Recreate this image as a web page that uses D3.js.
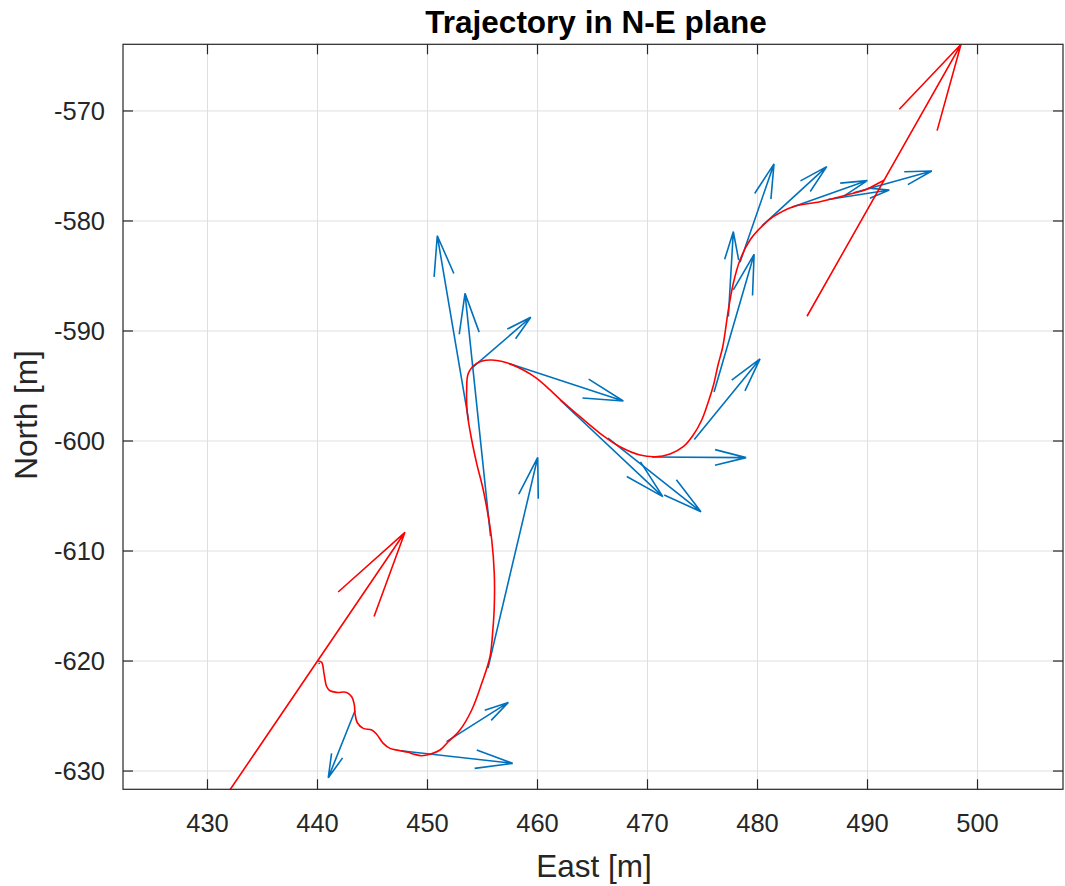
<!DOCTYPE html>
<html>
<head>
<meta charset="utf-8">
<script src="https://cdn.jsdelivr.net/npm/d3@7"></script>
<style>
  body { margin: 0; background: #fff; }
  text { font-family: "Liberation Sans", Arial, Helvetica, sans-serif; fill: #262626; }
</style>
</head>
<body>
<svg id="chart" width="1065" height="886"></svg>
<script>
// ---- axis setup ----
const xTicks = [430, 440, 450, 460, 470, 480, 490, 500];
const yTicks = [-630, -620, -610, -600, -590, -580, -570];
const xLimits = [422.32, 507.77];
const yLimits = [-631.66, -563.94];

// ---- estimated trajectory (East, North) [m] ----
const trajE = [440.02, 440.38, 440.59, 440.84, 441.14, 441.75, 442.65, 443.11, 443.35, 443.41,
  443.62, 444.16, 444.93, 445.38, 445.98, 446.59, 447.50, 448.25, 448.71, 449.47,
  450.23, 451.14, 451.89, 452.95, 454.02, 454.93, 455.68, 455.94, 456.07, 456.07,
  455.84, 455.53, 455.07, 454.47, 454.02, 453.62, 453.56, 453.71, 454.47, 455.68,
  457.20, 458.71, 459.93, 461.14, 462.05, 463.86, 465.68, 467.50, 469.32, 470.68,
  472.05, 473.25, 474.16, 474.93, 475.53, 476.00, 476.41, 476.84, 477.35, 477.80, 478.41,
  479.32, 480.53, 481.44, 483.25, 485.68, 488.11, 489.93, 490.98, 491.50];
const trajN = [-620.00, -620.12, -621.12, -622.34, -622.70, -622.85, -622.85, -623.25, -624.00, -624.75,
  -625.61, -626.12, -626.27, -626.66, -627.48, -627.94, -628.15, -628.30, -628.45, -628.61,
  -628.48, -628.09, -627.34, -626.27, -624.45, -622.03, -619.61, -617.18, -615.06, -612.03,
  -609.00, -606.88, -604.45, -602.03, -599.91, -597.48, -595.36, -593.85, -592.94, -592.64,
  -592.88, -593.55, -594.30, -595.36, -596.21, -597.79, -599.30, -600.52, -601.27, -601.43,
  -601.18, -600.52, -599.45, -598.09, -596.43, -594.91, -593.09, -591.43, -588.09, -585.66, -583.55,
  -581.73, -580.36, -579.61, -578.70, -578.25, -577.64, -577.12, -576.57, -576.30];

// ---- heading vectors along the path (origin E, N and components U, V) ----
const vecE = [440.14, 443.41, 447.56, 451.73, 455.50, 453.73, 455.73, 454.05, 457.41, 462.05,
  466.41, 470.41, 474.25, 477.35, 476.05, 478.41, 480.41, 483.12, 486.41, 488.75];
const vecN = [-620.14, -624.52, -628.15, -627.32, -620.64, -598.09, -608.64, -593.36, -592.95, -596.27,
  -599.73, -601.45, -599.86, -588.68, -595.55, -583.75, -580.45, -578.75, -578.05, -577.44];
const vecU = [0.02, -2.43, 10.18, 5.62, 4.52, -2.84, -2.32, 5.34, 10.39, 9.34,
  8.45, 8.55, 5.98, 0.45, 3.64, 3.09, 5.88, 6.86, 5.57, 7.09];
const vecV = [-0.12, -6.09, -1.15, 3.56, 19.15, 16.75, 22.06, 4.61, -3.41, -8.79,
  -6.70, -0.06, 7.32, 7.71, 12.52, 8.94, 5.39, 2.42, 0.86, 1.98];

// ---- start / end direction arrows ----
const endE = [432.05, 484.50];
const endN = [-631.70, -588.66];
const endU = [15.90, 14.00];
const endV = [23.40, 24.72];

// ---- layout ----
const svg = d3.select("#chart");
const plot = { left: 123, right: 1063, top: 44.3, bottom: 789.3 };
const x = d3.scaleLinear().domain(xLimits).range([plot.left, plot.right]);
const y = d3.scaleLinear().domain(yLimits).range([plot.bottom, plot.top]);

const axisColor = "#262626";
const gridColor = "#dfdfdf";
const blue = "#0072BD";
const red = "#FF0000";

svg.append("defs").append("clipPath").attr("id", "plotClip")
  .append("rect")
  .attr("x", plot.left).attr("y", plot.top)
  .attr("width", plot.right - plot.left).attr("height", plot.bottom - plot.top);

// grid
const grid = svg.append("g");
grid.selectAll("line.gx").data(xTicks).join("line")
  .attr("x1", d => x(d)).attr("x2", d => x(d))
  .attr("y1", plot.top).attr("y2", plot.bottom)
  .attr("stroke", gridColor).attr("stroke-width", 1);
grid.selectAll("line.gy").data(yTicks).join("line")
  .attr("class", "gy")
  .attr("x1", plot.left).attr("x2", plot.right)
  .attr("y1", d => y(d)).attr("y2", d => y(d))
  .attr("stroke", gridColor).attr("stroke-width", 1);

// quiver-style arrows: shaft plus two-line head
function arrowPath(e, n, u, v, alpha, beta, cap) {
  const L = Math.hypot(u, v);
  const tipE = e + u, tipN = n + v;
  let f = alpha;
  if (L > 0 && alpha * L > cap) f = cap / L;
  const hu = f * u, hv = f * v;
  const p1 = [tipE - hu - beta * hv, tipN - hv + beta * hu];
  const p2 = [tipE - hu + beta * hv, tipN - hv - beta * hu];
  return `M${x(e)},${y(n)}L${x(tipE)},${y(tipN)}` +
         `M${x(p1[0])},${y(p1[1])}L${x(tipE)},${y(tipN)}L${x(p2[0])},${y(p2[1])}`;
}

const layer = svg.append("g").attr("clip-path", "url(#plotClip)");

// heading vectors
layer.append("g").selectAll("path").data(d3.range(vecE.length)).join("path")
  .attr("d", i => arrowPath(vecE[i], vecN[i], vecU[i], vecV[i], 0.33, 0.25, 3.64))
  .attr("fill", "none").attr("stroke", blue).attr("stroke-width", 1.6)
  .attr("stroke-linejoin", "miter");

// trajectory
const line = d3.line()
  .x(i => x(trajE[i])).y(i => y(trajN[i]))
  .curve(d3.curveCatmullRom.alpha(0.5));
layer.append("path")
  .attr("d", line(d3.range(trajE.length)))
  .attr("fill", "none").attr("stroke", red).attr("stroke-width", 1.6);

// start / end arrows
layer.append("g").selectAll("path").data(d3.range(endE.length)).join("path")
  .attr("d", i => arrowPath(endE[i], endN[i], endU[i], endV[i], 0.33, 0.25, 7.9))
  .attr("fill", "none").attr("stroke", red).attr("stroke-width", 1.6);

// axes box
svg.append("rect")
  .attr("x", plot.left).attr("y", plot.top)
  .attr("width", plot.right - plot.left).attr("height", plot.bottom - plot.top)
  .attr("fill", "none").attr("stroke", axisColor).attr("stroke-width", 1.2);

// inward ticks on all four sides
const tickLen = 10;
const ticks = svg.append("g").attr("stroke", axisColor).attr("stroke-width", 1.2);
xTicks.forEach(t => {
  ticks.append("line").attr("x1", x(t)).attr("x2", x(t)).attr("y1", plot.bottom).attr("y2", plot.bottom - tickLen);
  ticks.append("line").attr("x1", x(t)).attr("x2", x(t)).attr("y1", plot.top).attr("y2", plot.top + tickLen);
});
yTicks.forEach(t => {
  ticks.append("line").attr("x1", plot.left).attr("x2", plot.left + tickLen).attr("y1", y(t)).attr("y2", y(t));
  ticks.append("line").attr("x1", plot.right).attr("x2", plot.right - tickLen).attr("y1", y(t)).attr("y2", y(t));
});

// tick labels
svg.append("g").selectAll("text").data(xTicks).join("text")
  .attr("x", d => x(d)).attr("y", 832)
  .attr("text-anchor", "middle").attr("font-size", 25.5)
  .text(d => d);
svg.append("g").selectAll("text").data(yTicks).join("text")
  .attr("x", 105).attr("y", d => y(d) + 9)
  .attr("text-anchor", "end").attr("font-size", 25.5)
  .text(d => d);

// axis labels and title
svg.append("text").attr("x", 594).attr("y", 877)
  .attr("text-anchor", "middle").attr("font-size", 31.5).text("East [m]");
svg.append("text")
  .attr("transform", "translate(37,415) rotate(-90)")
  .attr("text-anchor", "middle").attr("font-size", 31.5).text("North [m]");
svg.append("text").attr("x", 596).attr("y", 33)
  .attr("text-anchor", "middle").attr("font-size", 31.5).attr("font-weight", "bold")
  .style("fill", "#000")
  .text("Trajectory in N-E plane");
</script>
</body>
</html>
